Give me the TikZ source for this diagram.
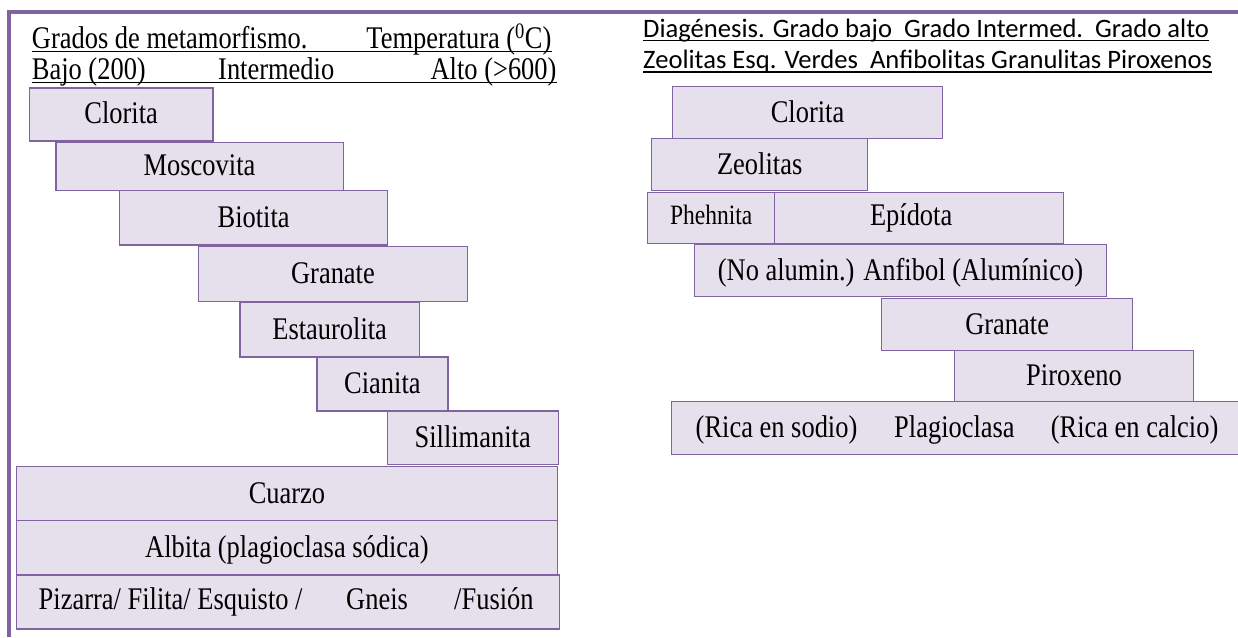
\documentclass[tikz,border=0pt]{standalone}
\usepackage{fontspec}
\setmainfont{Liberation Serif}[FakeStretch=0.84]
\newfontfamily\calfont{Carlito}
\definecolor{frame}{HTML}{8064A2}
\definecolor{boxfill}{HTML}{E5E0EC}
\begin{document}
\begin{tikzpicture}[x=1pt,y=-1pt,
  box/.style={draw=frame, line width=1.3pt, fill=boxfill, anchor=north west, inner sep=0pt,
    font=\fontsize{31.5}{34}\selectfont, text height=22pt, text depth=3pt},
  lbl/.style={inner sep=0pt, font=\fontsize{31.5}{34}\selectfont},
  hdr/.style={inner sep=0pt, font=\calfont\fontsize{26.6}{30}\selectfont, anchor=base west},
  uline/.style={line width=1.8pt, black},
  border/.style={draw=frame, line width=4pt}]
\useasboundingbox (0,0) rectangle (1238,637);

% outer frame
\draw[border] (9,637) -- (9,12) -- (1238,12);

% ---------- left header ----------
\node[lbl, anchor=base west] (lh1a) at (31.7,48) {Grados de metamorfismo.};
\node[lbl, anchor=base east] (lh1b) at (551.6,48) {Temperatura (\textsuperscript{0}C)};
\draw[uline] ([yshift=-3.5pt]lh1a.base west) -- ([yshift=-3.5pt]lh1b.base east);
\node[lbl, anchor=base west] (lh2a) at (31.7,79) {Bajo (200)};
\node[lbl, anchor=base west] (lh2b) at (218,79) {Intermedio};
\node[lbl, anchor=base east] (lh2c) at (556.7,79) {Alto (>600)};
\draw[uline] ([yshift=-3.5pt]lh2a.base west) -- ([yshift=-3.5pt]lh2c.base east);

% ---------- left boxes ----------
\node[box, minimum width=183.7pt, minimum height=53pt] (clorita) at (28.6,87.3) {Clorita};
\node[box, minimum width=287.3pt, minimum height=48.3pt, text height=20pt] (moscovita) at (55.2,141.7) {Moscovita};
\node[box, minimum width=268pt, minimum height=54.3pt] (biotita) at (119,190) {Biotita};
\node[box, minimum width=269.4pt, minimum height=54.7pt] (granate) at (197.6,246) {Granate};
\node[box, minimum width=179.4pt, minimum height=54.3pt] (estaurolita) at (239.3,302) {Estaurolita};
\node[box, minimum width=130.9pt, minimum height=54pt] (cianita) at (316.3,356.3) {Cianita};
\node[box, minimum width=171pt, minimum height=53.7pt] (sillimanita) at (386.5,410.3) {Sillimanita};
\node[box, minimum width=540.8pt, minimum height=54pt] (cuarzo) at (15.9,466) {Cuarzo};
\node[box, minimum width=540.8pt, minimum height=54.3pt] (albita) at (15.9,520) {Albita (plagioclasa sódica)};
\node[box, minimum width=542.8pt, minimum height=54pt] (pizarra) at (15.9,574.3) {};
\node[lbl, anchor=base west] (piz1) at (38.5,609) {Pizarra/ Filita/ Esquisto /};
\node[lbl, anchor=base west] (piz2) at (346,609) {Gneis};
\node[lbl, anchor=base west] (piz3) at (454,609) {/Fusión};

% ---------- right header ----------
\node[hdr] (rh1) at (643,37) {Diagénesis. Grado bajo\ \ Grado Intermed.\ \ Grado alto};
\draw[uline] ([yshift=-3.5pt]rh1.base west) -- ([yshift=-3.5pt]rh1.base east);
\node[hdr] (rh2) at (643,68.5) {Zeolitas Esq. Verdes\ \ Anfibolitas Granulitas Piroxenos};
\draw[uline] ([yshift=-3.5pt]rh2.base west) -- ([yshift=-3.5pt]rh2.base east);

% ---------- right boxes ----------
\node[box, minimum width=270.3pt, minimum height=52pt] (clorita2) at (671.7,86) {Clorita};
\node[box, minimum width=216pt, minimum height=52pt] (zeolitas) at (651,138) {Zeolitas};
\node[box, minimum width=127pt, minimum height=51pt, font=\fontsize{28}{31}\selectfont, text height=18pt, text depth=6pt] (phehnita) at (647,192) {Phehnita};
\node[box, minimum width=289pt, minimum height=51pt, text height=20pt, text depth=5pt] (epidota) at (774,192) {Epídota\hspace*{16pt}};
\node[box, minimum width=412.4pt, minimum height=52pt] (anfibol) at (693.6,244) {(No alumin.) Anfibol (Alumínico)};
\node[box, minimum width=251pt, minimum height=52pt] (granate2) at (881,298) {Granate};
\node[box, minimum width=238.6pt, minimum height=51pt] (piroxeno) at (954,350) {Piroxeno};
\node[box, minimum width=575pt, minimum height=53pt] (plagio) at (671,401) {};
\node[lbl, anchor=base west] (pl1) at (695.5,437) {(Rica en sodio)};
\node[lbl, anchor=base west] (pl2) at (894,437) {Plagioclasa};
\node[lbl, anchor=base west] (pl3) at (1050.6,437) {(Rica en calcio)};
\end{tikzpicture}
\end{document}
